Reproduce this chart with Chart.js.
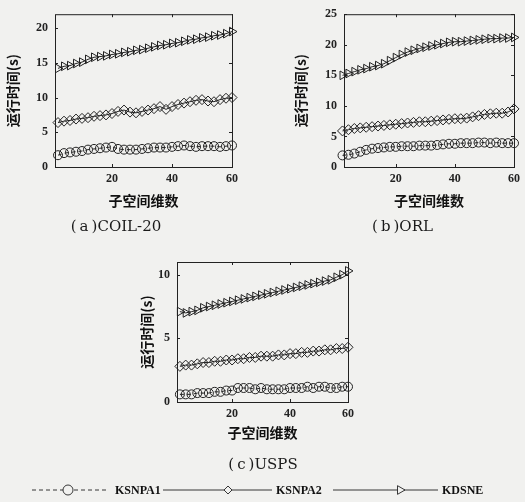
<!DOCTYPE html>
<html>
<head>
<meta charset="utf-8">
<script src="https://cdn.jsdelivr.net/npm/chart.js@4.4.1/dist/chart.umd.min.js"></script>
<style>
  html, body { margin: 0; padding: 0; background: #f1f1ef; }
  body { width: 525px; height: 502px; position: relative; overflow: hidden; }
  canvas { position: absolute; }
</style>
</head>
<body>
<canvas id="coil" width="262" height="240" style="left:0;top:0"></canvas>
<canvas id="orl" width="263" height="240" style="left:262px;top:0"></canvas>
<canvas id="usps" width="525" height="262" style="left:0;top:240px"></canvas>
<script>
// subspace dimension (x)
var dims = [2, 4, 6, 8, 10, 12, 14, 16, 18, 20, 22, 24, 26, 28, 30,
            32, 34, 36, 38, 40, 42, 44, 46, 48, 50, 52, 54, 56, 58, 60];
var dimTicks = [20, 40, 60];

// (a) COIL-20 run time (s)
var coilKSNPA1 = [1.7, 2.0, 2.1, 2.2, 2.3, 2.5, 2.6, 2.7, 2.8, 2.9, 2.6, 2.5, 2.5, 2.5, 2.6,
                  2.7, 2.8, 2.8, 2.8, 2.9, 3.0, 3.1, 3.0, 2.9, 3.0, 3.0, 3.0, 2.9, 3.0, 3.1];
var coilKSNPA2 = [6.4, 6.6, 6.7, 6.9, 7.0, 7.1, 7.3, 7.4, 7.5, 7.7, 8.0, 8.2, 7.9, 7.8, 8.0,
                  8.2, 8.4, 8.7, 8.3, 8.7, 9.0, 9.2, 9.4, 9.6, 9.7, 9.5, 9.4, 9.7, 9.9, 10.0];
var coilKDSNE = [14.2, 14.5, 14.6, 14.9, 15.1, 15.5, 15.8, 15.9, 16.0, 16.2, 16.3, 16.5, 16.6, 16.8, 16.9,
                 17.1, 17.3, 17.5, 17.6, 17.8, 17.9, 18.1, 18.3, 18.4, 18.6, 18.7, 18.9, 19.0, 19.2, 19.5];
var coilYTicks = [0, 5, 10, 15, 20];

// (b) ORL
var orlKSNPA1 = [1.9, 2.0, 2.2, 2.5, 2.8, 3.0, 3.1, 3.2, 3.3, 3.3, 3.4, 3.4, 3.4, 3.5, 3.5,
                 3.5, 3.6, 3.7, 3.8, 3.8, 3.9, 3.9, 3.9, 4.0, 4.0, 3.9, 4.0, 3.9, 3.9, 3.9];
var orlKSNPA2 = [5.9, 6.1, 6.3, 6.4, 6.5, 6.6, 6.7, 6.8, 6.9, 7.0, 7.1, 7.2, 7.3, 7.4, 7.4,
                 7.5, 7.6, 7.7, 7.8, 7.9, 7.9, 8.0, 8.2, 8.4, 8.6, 8.7, 8.8, 8.8, 9.0, 9.5];
var orlKDSNE = [15.0, 15.3, 15.6, 15.9, 16.1, 16.4, 16.6, 16.9, 17.4, 17.9, 18.4, 18.8, 19.1, 19.4, 19.6,
                19.8, 20.0, 20.2, 20.4, 20.5, 20.5, 20.6, 20.7, 20.8, 20.9, 21.0, 21.0, 21.1, 21.1, 21.2];
var orlYTicks = [0, 5, 10, 15, 20, 25];

// (c) USPS
var uspsKSNPA1 = [0.6, 0.6, 0.6, 0.7, 0.7, 0.7, 0.8, 0.8, 0.9, 0.9, 1.1, 1.1, 1.1, 1.0, 1.1,
                  1.0, 1.0, 1.0, 1.0, 1.1, 1.1, 1.1, 1.2, 1.1, 1.2, 1.2, 1.1, 1.1, 1.2, 1.2];
var uspsKSNPA2 = [2.8, 2.9, 2.9, 3.0, 3.1, 3.1, 3.2, 3.2, 3.3, 3.3, 3.4, 3.4, 3.5, 3.5, 3.6,
                  3.6, 3.6, 3.7, 3.7, 3.8, 3.8, 3.9, 3.9, 4.0, 4.0, 4.1, 4.1, 4.2, 4.2, 4.3];
var uspsKDSNE = [7.1, 7.0, 7.1, 7.2, 7.4, 7.5, 7.6, 7.7, 7.8, 7.9, 8.0, 8.1, 8.2, 8.3, 8.4,
                 8.5, 8.6, 8.7, 8.8, 8.9, 9.0, 9.1, 9.2, 9.3, 9.4, 9.5, 9.6, 9.8, 10.0, 10.3];
var uspsYTicks = [0, 5, 10];

var ink = '#222';
var paper = '#f1f1ef';
var serif = '"Liberation Serif", "DejaVu Serif", serif';
var capFont = '"DejaVu Serif", serif';
var cjk = '"Noto Sans CJK SC", sans-serif';

function pts(vals) {
  return dims.map(function (d, i) { return { x: d, y: vals[i] }; });
}

function seriesSet(a1, a2, kd) {
  return [
    { label: 'KSNPA1', data: pts(a1), borderDash: [4, 3], pointStyle: 'circle', pointRadius: 4.5 },
    { label: 'KSNPA2', data: pts(a2), pointStyle: 'rectRot', pointRadius: 5 },
    { label: 'KDSNE', data: pts(kd), pointStyle: 'triangle', pointRotation: 90, pointRadius: 5 }
  ].map(function (ds) {
    ds.borderColor = ink;
    ds.borderWidth = 1;
    ds.backgroundColor = 'rgba(0,0,0,0)';
    ds.pointBorderColor = ink;
    ds.pointBorderWidth = 1;
    ds.tension = 0;
    ds.clip = false;
    return ds;
  });
}

// box around plot + inward ticks on all four sides
var framePlugin = {
  id: 'frame',
  beforeDatasetsDraw: function (chart) {
    var ctx = chart.ctx, a = chart.chartArea, x = chart.scales.x, y = chart.scales.y;
    ctx.save();
    ctx.strokeStyle = ink;
    ctx.lineWidth = 1;
    ctx.strokeRect(a.left + 0.5, a.top + 0.5, a.right - a.left, a.bottom - a.top);
    ctx.beginPath();
    x.ticks.forEach(function (t) {
      var px = Math.round(x.getPixelForValue(t.value)) + 0.5;
      ctx.moveTo(px, a.bottom); ctx.lineTo(px, a.bottom - 3);
      ctx.moveTo(px, a.top); ctx.lineTo(px, a.top + 3);
    });
    y.ticks.forEach(function (t) {
      var py = Math.round(y.getPixelForValue(t.value)) + 0.5;
      ctx.moveTo(a.left, py); ctx.lineTo(a.left + 3, py);
      ctx.moveTo(a.right, py); ctx.lineTo(a.right - 3, py);
    });
    ctx.stroke();
    ctx.restore();
  }
};

// shared legend under the last panel
var legendSlots = [
  { from: 32, to: 107, mark: 68, text: 115, r: 5 },
  { from: 163, to: 272, mark: 228, text: 276, r: 4 },
  { from: 333, to: 438, mark: 400, text: 442, r: 5 }
];
var bottomLegend = {
  id: 'bottomLegend',
  afterDraw: function (chart) {
    var ctx = chart.ctx, ly = 250;
    ctx.save();
    chart.data.datasets.forEach(function (ds, i) {
      var s = legendSlots[i];
      ctx.strokeStyle = ink;
      ctx.lineWidth = 0.9;
      ctx.setLineDash(ds.borderDash || []);
      ctx.beginPath();
      ctx.moveTo(s.from, ly); ctx.lineTo(s.to, ly);
      ctx.stroke();
      ctx.setLineDash([]);
      ctx.fillStyle = paper;
      Chart.helpers.drawPoint(ctx, {
        pointStyle: ds.pointStyle, radius: s.r, rotation: ds.pointRotation || 0, borderWidth: 0.9
      }, s.mark, ly);
      ctx.fillStyle = '#111';
      ctx.font = 'bold 12px ' + serif;
      ctx.textBaseline = 'middle';
      ctx.fillText(ds.label, s.text, ly + 1);
    });
    ctx.restore();
  }
};

function makeChart(id, datasets, yMax, yTicks, xMin, caption, pad, yWidth, xHeight, capPad, spacer, extra) {
  var scales = {
    x: {
      type: 'linear',
      min: xMin,
      max: 60,
      afterBuildTicks: function (s) { s.ticks = dimTicks.map(function (v) { return { value: v }; }); },
      afterFit: function (s) { s.height = xHeight; },
      grid: { display: false, drawTicks: false },
      border: { display: false },
      ticks: { color: ink, padding: 5, font: { family: serif, size: 12, weight: 'bold' } },
      title: { display: true, text: '子空间维数', color: '#111', padding: { top: 2, bottom: 3 },
               font: { family: cjk, size: 14, weight: 'bold' } }
    },
    y: {
      min: 0,
      max: yMax,
      afterBuildTicks: function (s) { s.ticks = yTicks.map(function (v) { return { value: v }; }); },
      afterFit: function (s) { s.width = yWidth; },
      grid: { display: false, drawTicks: false },
      border: { display: false },
      ticks: { color: ink, padding: 7, font: { family: serif, size: 12, weight: 'bold' } },
      title: { display: true, text: '运行时间(s)', color: '#111', padding: { top: 4, bottom: 0 },
               font: { family: cjk, size: 14, weight: 'bold' } }
    }
  };
  if (spacer) {
    // empty right-hand axis, only reserves room so the caption sits where the original has it
    scales.yr = {
      position: 'right',
      afterFit: function (s) { s.width = spacer; },
      grid: { display: false, drawTicks: false },
      border: { display: false },
      ticks: { display: false }
    };
  }
  return new Chart(document.getElementById(id), {
    type: 'line',
    data: { datasets: datasets },
    options: {
      responsive: false,
      animation: false,
      layout: { padding: pad },
      scales: scales,
      plugins: {
        legend: { display: false },
        tooltip: { enabled: false },
        title: {
          display: true,
          position: 'bottom',
          text: caption,
          color: '#1a1a1a',
          padding: capPad,
          font: { family: capFont, size: 15, weight: 'normal' }
        }
      }
    },
    plugins: [framePlugin].concat(extra || [])
  });
}

makeChart('coil', seriesSet(coilKSNPA1, coilKSNPA2, coilKDSNE), 22, coilYTicks, 1, '(\u2009a\u2009)COIL-20',
          { left: 0, right: 30, top: 11, bottom: 0 }, 55, 45, { top: 6, bottom: 4 }, 0);
makeChart('orl', seriesSet(orlKSNPA1, orlKSNPA2, orlKDSNE), 25, orlYTicks, 2.5, '(\u2009b\u2009)ORL',
          { left: 26, right: 8, top: 12, bottom: 0 }, 56, 45, { top: 6, bottom: 4 }, 0);
makeChart('usps', seriesSet(uspsKSNPA1, uspsKSNPA2, uspsKDSNE), 11, uspsYTicks, 1, '(\u2009c\u2009)USPS',
          { left: 134, right: 133, top: 22, bottom: 28 }, 43, 42, { top: 12, bottom: 0 }, 44, [bottomLegend]);
</script>
</body>
</html>
